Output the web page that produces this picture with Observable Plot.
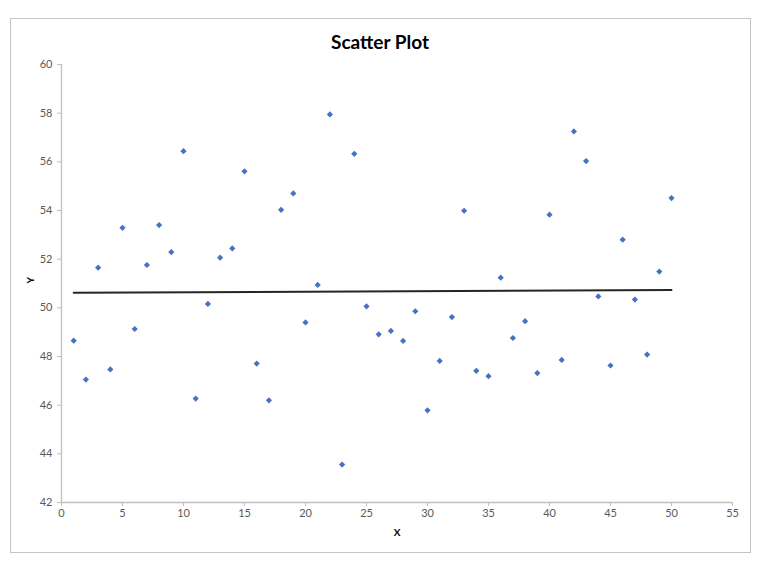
<!DOCTYPE html>
<html>
<head>
<meta charset="utf-8">
<script src="https://cdn.jsdelivr.net/npm/d3@7"></script>
<script src="https://cdn.jsdelivr.net/npm/@observablehq/plot@0.6"></script>
<style>
  html, body { margin: 0; padding: 0; background: #fff; }
  #wrap { position: relative; width: 768px; height: 567px; }
  #border { position: absolute; left: 10px; top: 18px; width: 739px; height: 533px; border: 1px solid #c4c4c4; pointer-events: none; }
  svg { display: block; }
</style>
</head>
<body>
<div id="wrap"><div id="border"></div></div>
<script>
const xValues = [1,2,3,4,5,6,7,8,9,10,11,12,13,14,15,16,17,18,19,20,21,22,23,24,25,26,27,28,29,30,31,32,33,34,35,36,37,38,39,40,41,42,43,44,45,46,47,48,49,50];
const yValues = [48.65,47.05,51.65,47.47,53.29,49.13,51.76,53.40,52.29,56.44,46.27,50.16,52.06,52.44,55.61,47.71,46.20,54.03,54.70,49.40,50.94,57.95,43.56,56.33,50.06,48.91,49.05,48.64,49.86,45.79,47.82,49.62,53.99,47.41,47.19,51.24,48.76,49.45,47.32,53.83,47.86,57.25,56.03,50.47,47.63,52.80,50.34,48.08,51.49,54.51];
const xTicks = [0,5,10,15,20,25,30,35,40,45,50,55];
const yTicks = [42,44,46,48,50,52,54,56,58,60];
const title = "Scatter Plot";
const xLabel = "X";
const yLabel = "Y";

const data = xValues.map((x, i) => ({x, y: yValues[i]}));
const font = "Lato, 'Open Sans', sans-serif";

const chart = Plot.plot({
  width: 768,
  height: 567,
  marginLeft: 61,
  marginRight: 36,
  marginTop: 64,
  marginBottom: 65,
  style: {fontFamily: font, fontSize: "11px", color: "#595959", background: "transparent"},
  x: {domain: [0, 55], ticks: xTicks, tickSize: 4, tickPadding: 3, label: null},
  y: {domain: [42, 60], ticks: yTicks, tickSize: 4, tickPadding: 5, label: null},
  marks: [
    Plot.axisX({ticks: xTicks, tickSize: 4, tickPadding: 3, stroke: "#bfbfbf", color: "#595959", label: null}),
    Plot.axisY({ticks: yTicks, tickSize: 4, tickPadding: 5, stroke: "#bfbfbf", color: "#595959", label: null}),
    Plot.ruleY([42], {stroke: "#bfbfbf", strokeWidth: 1.3}),
    Plot.ruleX([0], {stroke: "#bfbfbf", strokeWidth: 1.3}),
    Plot.linearRegressionY(data, {x: "x", y: "y", ci: 0, stroke: "#262626", strokeWidth: 2}),
    Plot.dot(data, {x: "x", y: "y", symbol: "diamond2", r: 2.8, fill: "#4472C4", stroke: "none"}),
    Plot.text([title], {frameAnchor: "top", dx: -17, dy: -29, fontSize: 19, fontWeight: "bold", fill: "#000", fontFamily: font}),
    Plot.text([xLabel], {frameAnchor: "bottom", dy: 33, fontSize: 10, fontWeight: "bold", fill: "#000", fontFamily: font}),
    Plot.text([yLabel], {frameAnchor: "left", dx: -31, rotate: -90, fontSize: 10, fontWeight: "bold", fill: "#000", fontFamily: font})
  ]
});
document.getElementById("wrap").appendChild(chart);
</script>
</body>
</html>
